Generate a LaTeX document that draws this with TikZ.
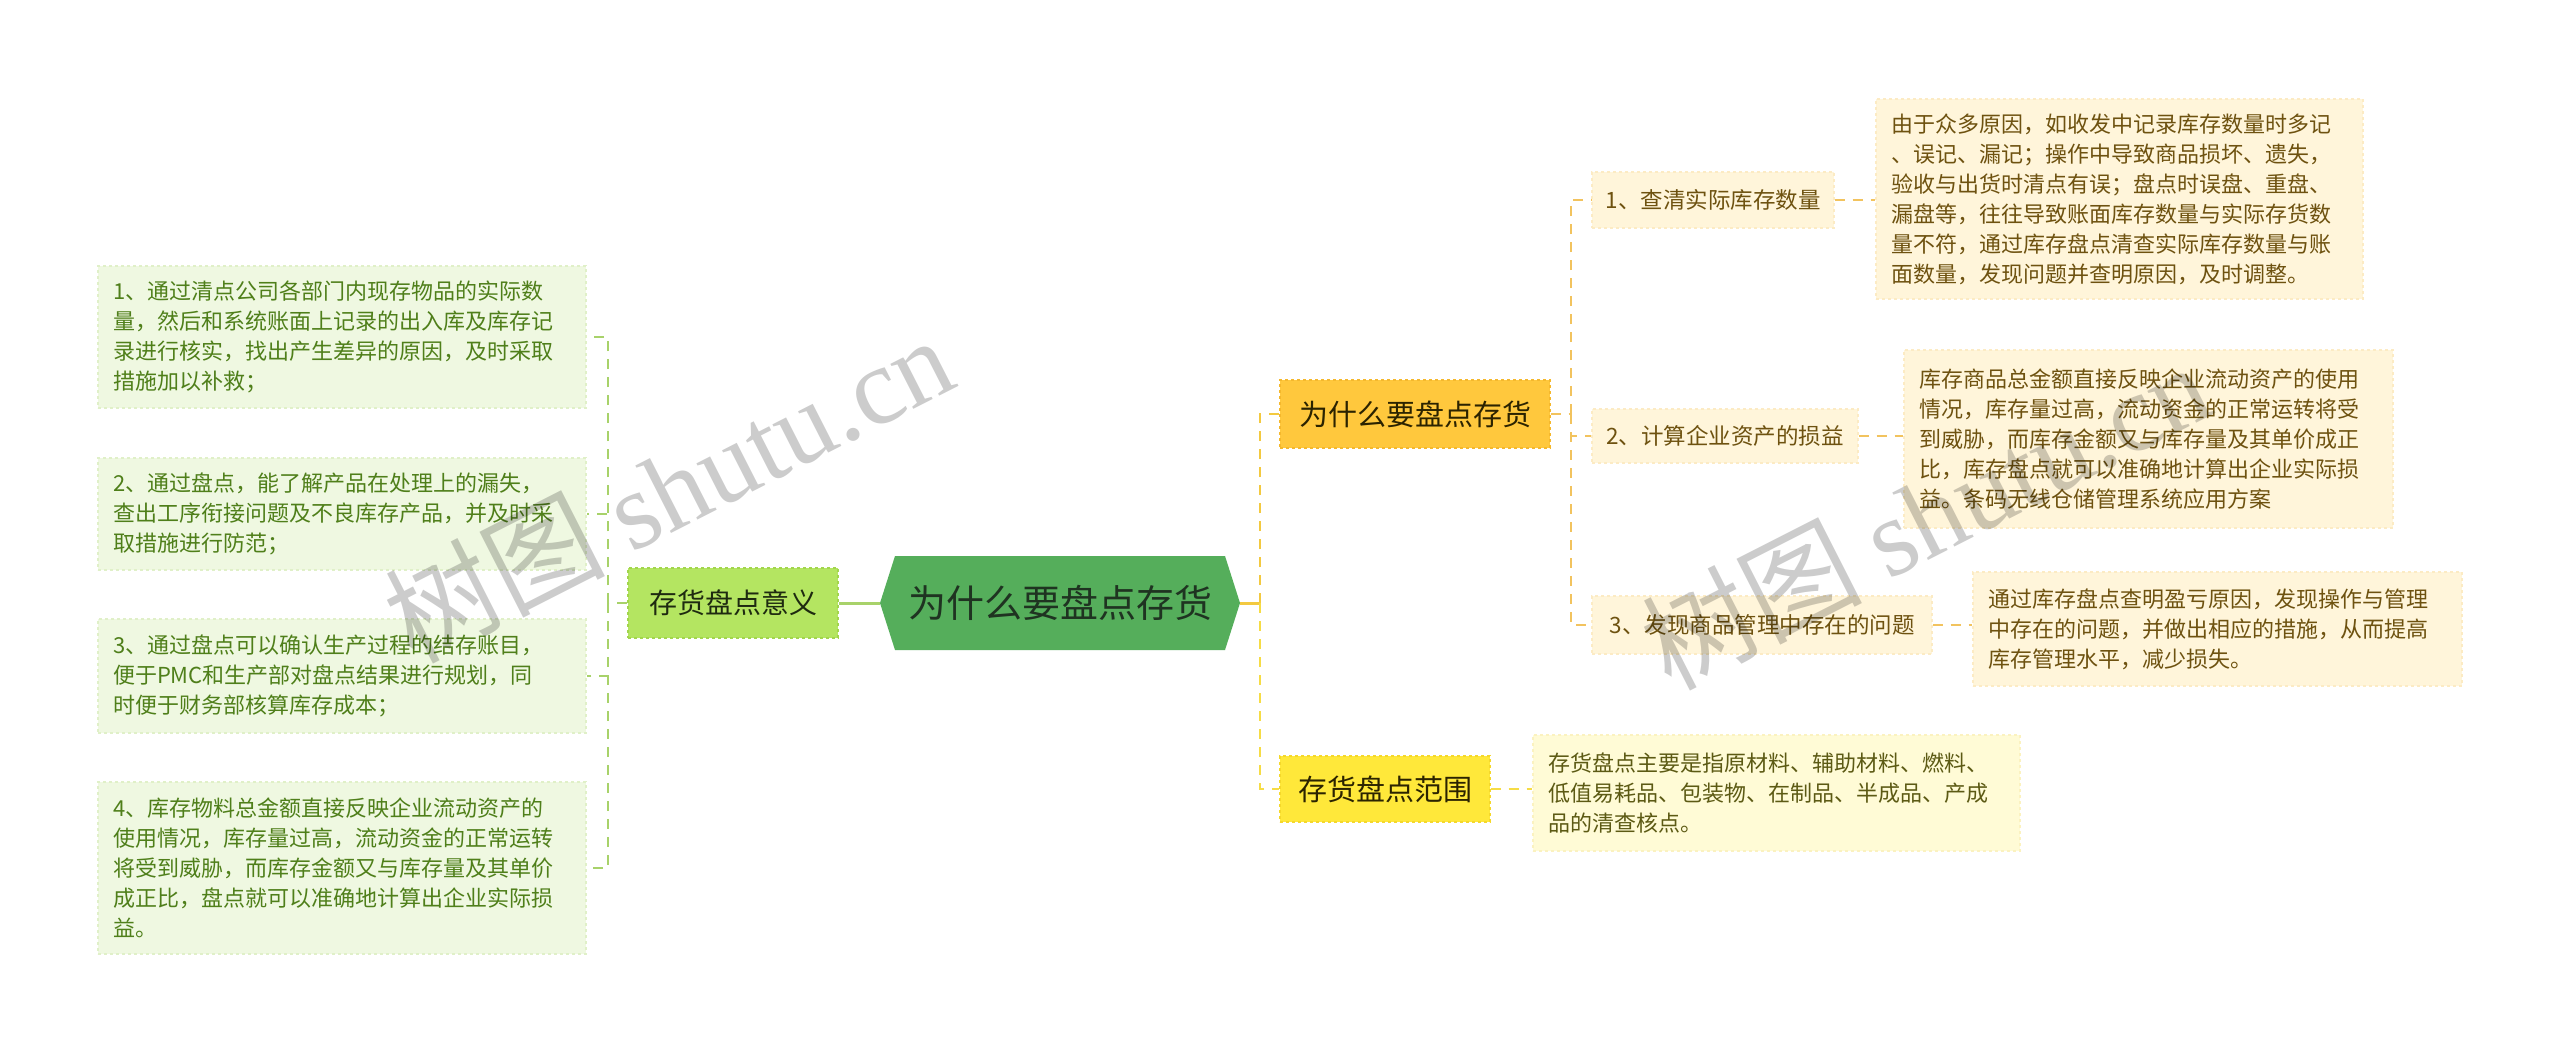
\documentclass[tikz,border=0pt]{standalone}
\usepackage{fontspec}
\setmainfont{Noto Sans CJK SC}
\newfontfamily\wmserif{Liberation Serif}
\usetikzlibrary{calc}
\definecolor{lfill}{HTML}{EFF8E1}
\definecolor{lborder}{HTML}{E0F0C8}
\definecolor{ltext}{HTML}{4F7F1A}
\definecolor{gnfill}{HTML}{B4E561}
\definecolor{gnborder}{HTML}{A2D64C}
\definecolor{gntext}{HTML}{1E2A10}
\definecolor{rootfill}{HTML}{55AE5B}
\definecolor{roottext}{HTML}{1F3321}
\definecolor{y1fill}{HTML}{FFC83D}
\definecolor{y1border}{HTML}{F5B82C}
\definecolor{y2fill}{HTML}{FFE83A}
\definecolor{y2border}{HTML}{F5D82A}
\definecolor{ytext}{HTML}{2B2300}
\definecolor{sfill}{HTML}{FFF5DA}
\definecolor{sborder}{HTML}{FCEBC4}
\definecolor{stext}{HTML}{6E5210}
\definecolor{d4fill}{HTML}{FFFBD6}
\definecolor{d4border}{HTML}{FBF2C0}
\definecolor{d4text}{HTML}{5C5A14}
\definecolor{gline}{HTML}{A8D26A}
\definecolor{yline}{HTML}{F3C940}
\definecolor{oline}{HTML}{F2C35E}
\definecolor{y2line}{HTML}{F6DC45}
\begin{document}
\begin{tikzpicture}[x=1pt,y=-1pt,
  txt/.style={font=\fontsize{22}{30}\selectfont, align=left, inner ysep=0pt, inner xsep=15pt},
  lleaf/.style={txt, fill=lfill, draw=lborder, dashed, line width=1.2pt, text=ltext, minimum width=488pt, text width=458pt},
  sub/.style={fill=sfill, draw=sborder, dashed, line width=1.2pt, text=stext, font=\fontsize{22.5}{30}\selectfont, inner sep=0pt},
  det/.style={txt, fill=sfill, draw=sborder, dashed, line width=1.2pt, text=stext},
  gconn/.style={draw=gline, line width=2.2pt, dash pattern=on 10pt off 8pt},
  yconn/.style={draw=yline, line width=2.2pt, dash pattern=on 10pt off 8pt},
  oconn/.style={draw=oline, line width=2.2pt, dash pattern=on 10pt off 8pt},
  y2conn/.style={draw=y2line, line width=2.2pt, dash pattern=on 10pt off 8pt},
  wm/.style={text=black, text opacity=0.2, font=\fontsize{110}{110}\selectfont, inner sep=0pt}
]
\useasboundingbox (0,0) rectangle (2560,1054);
\fill[white] (0,0) rectangle (2560,1054);

% root hexagon
\fill[rootfill] (880,603) -- (895,556) -- (1225,556) -- (1240,603) -- (1225,650) -- (895,650) -- cycle;
\node[minimum width=360pt, minimum height=94pt, inner sep=0pt, text=roottext, font=\fontsize{38}{40}\selectfont] (root) at (1060,603) {为什么要盘点存货};

% left branch
\node[fill=gnfill, draw=gnborder, dashed, line width=1.2pt, minimum width=210pt, minimum height=70pt, inner sep=0pt, text=gntext, font=\fontsize{28}{30}\selectfont] (lnode) at (733,603) {存货盘点意义};

\node[lleaf, minimum height=142pt] (L1) at (342,337) {1、通过清点公司各部门内现存物品的实际数\\量，然后和系统账面上记录的出入库及库存记\\录进行核实，找出产生差异的原因，及时采取\\措施加以补救；};
\node[lleaf, minimum height=112pt] (L2) at (342,514) {2、通过盘点，能了解产品在处理上的漏失，\\查出工序衔接问题及不良库存产品，并及时采\\取措施进行防范；};
\node[lleaf, minimum height=114pt] (L3) at (342,676) {3、通过盘点可以确认生产过程的结存账目，\\便于PMC和生产部对盘点结果进行规划，同\\时便于财务部核算库存成本；};
\node[lleaf, minimum height=172pt] (L4) at (342,868) {4、库存物料总金额直接反映企业流动资产的\\使用情况，库存量过高，流动资金的正常运转\\将受到威胁，而库存金额又与库存量及其单价\\成正比，盘点就可以准确地计算出企业实际损\\益。};

\coordinate (lj) at (608,603);
\draw[draw=gline, line width=3pt] (root.west) -- (lnode.east);
\draw[gconn] (lnode.west) -- (lj);
\draw[gconn] (lj) |- (L1.east);
\draw[gconn] (lj) |- (L2.east);
\draw[gconn] (lj) |- (L3.east);
\draw[gconn] (lj) |- (L4.east);

% right branch
\node[fill=y1fill, draw=y1border, dashed, line width=1.2pt, minimum width=270pt, minimum height=68pt, inner sep=0pt, text=ytext, font=\fontsize{29}{30}\selectfont] (Y1) at (1415,414) {为什么要盘点存货};
\node[fill=y2fill, draw=y2border, dashed, line width=1.2pt, minimum width=210pt, minimum height=66pt, inner sep=0pt, text=ytext, font=\fontsize{29}{30}\selectfont] (Y2) at (1385,789) {存货盘点范围};

\node[sub, minimum width=242pt, minimum height=56pt] (S1) at (1713,200) {1、查清实际库存数量};
\node[sub, minimum width=266pt, minimum height=54pt] (S2) at (1725,436) {2、计算企业资产的损益};
\node[sub, minimum width=340pt, minimum height=58pt] (S3) at (1762,625) {3、发现商品管理中存在的问题};

\node[det, minimum width=487pt, text width=457pt, minimum height=200pt] (D1) at (2119.5,199) {由于众多原因，如收发中记录库存数量时多记\\、误记、漏记；操作中导致商品损坏、遗失，\\验收与出货时清点有误；盘点时误盘、重盘、\\漏盘等，往往导致账面库存数量与实际存货数\\量不符，通过库存盘点清查实际库存数量与账\\面数量，发现问题并查明原因，及时调整。};
\node[det, minimum width=489pt, text width=459pt, minimum height=178pt] (D2) at (2148.5,439) {库存商品总金额直接反映企业流动资产的使用\\情况，库存量过高，流动资金的正常运转将受\\到威胁，而库存金额又与库存量及其单价成正\\比，库存盘点就可以准确地计算出企业实际损\\益。条码无线仓储管理系统应用方案};
\node[det, minimum width=489pt, text width=459pt, minimum height=114pt] (D3) at (2217.5,629) {通过库存盘点查明盈亏原因，发现操作与管理\\中存在的问题，并做出相应的措施，从而提高\\库存管理水平，减少损失。};
\node[txt, fill=d4fill, draw=d4border, dashed, line width=1.2pt, text=d4text, minimum width=487pt, text width=457pt, minimum height=116pt] (D4) at (1776.5,793) {存货盘点主要是指原材料、辅助材料、燃料、\\低值易耗品、包装物、在制品、半成品、产成\\品的清查核点。};

\coordinate (rj) at (1260,603);
\coordinate (sj) at (1571,414);
\draw[draw=yline, line width=3pt] (root.east) -- (rj);
\draw[yconn] (rj) |- (Y1.west);
\draw[y2conn] (rj) |- (Y2.west);
\draw[oconn] (Y1.east) -- (sj);
\draw[oconn] (sj) |- (S1.west);
\draw[oconn] (sj) |- (S2.west);
\draw[oconn] (sj) |- (S3.west);
\draw[oconn] (S1.east) -- (S1.east -| D1.west);
\draw[oconn] (S2.east) -- (S2.east -| D2.west);
\draw[oconn] (S3.east) -- (S3.east -| D3.west);
\draw[y2conn] (Y2.east) -- (Y2.east -| D4.west);

% watermarks
\node[wm, rotate=27] (wm1) at (668,488) {树图 {\wmserif shutu.cn}};
\node[wm, rotate=27] (wm2) at (1925,515) {树图 {\wmserif shutu.cn}};
\end{tikzpicture}
\end{document}
